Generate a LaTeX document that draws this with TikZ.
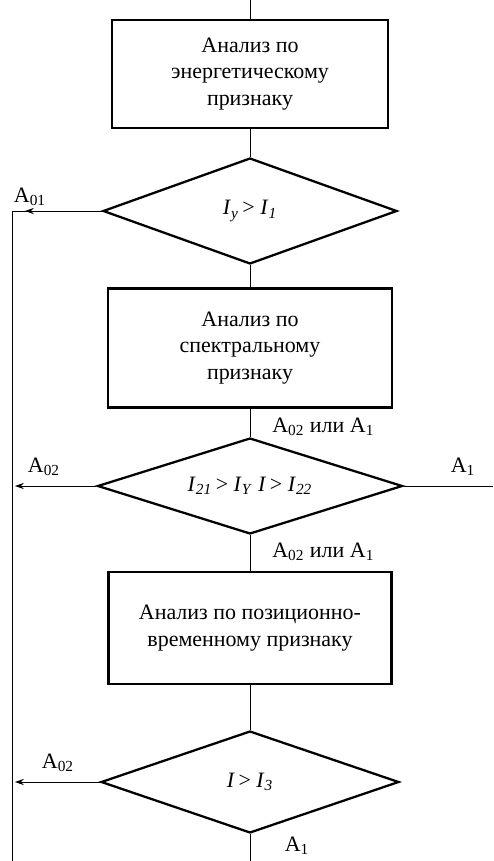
\documentclass[tikz,border=0pt]{standalone}
\usepackage{fontspec}
\setmainfont{Liberation Serif}
\usetikzlibrary{shapes.geometric,arrows.meta}
\newcommand\isb[2]{\textit{#1}\textsubscript{\textit{#2}}}
\begin{document}
\begin{tikzpicture}[x=0.02cm,y=-0.02cm,
  box/.style={draw,line width=1.3pt,inner sep=0pt,align=center,font=\fontsize{12.5}{15}\selectfont},
  dia/.style={draw,diamond,line width=1.3pt,inner sep=0pt,aspect=3,font=\fontsize{12.5}{15}\selectfont},
  conn/.style={line width=0.5pt},
  arr/.style={line width=0.5pt,-{Stealth[length=5pt,width=3.5pt]}},
  lab/.style={inner sep=0pt,font=\fontsize{12.5}{14}\selectfont}]
\useasboundingbox (0,0) rectangle (493,861);
\node[box,minimum width=5.52cm,minimum height=2.16cm] (b1) at (250,74) {Анализ по\\энергетическому\\признаку};
\node[dia,minimum width=5.88cm,minimum height=2.12cm] (d1) at (250,211) {\isb{I}{y}\,> \isb{I}{1}};
\node[box,minimum width=5.68cm,minimum height=2.38cm] (b2) at (250,348) {Анализ по\\спектральному\\признаку};
\node[dia,minimum width=6.1cm,minimum height=1.92cm] (d2) at (250,486) {\isb{I}{21}\,> \isb{I}{Y} \textit{I}\,> \isb{I}{22}};
\node[box,minimum width=5.66cm,minimum height=2.24cm] (b3) at (250,628) {Анализ по позиционно-\\временному признаку};
\node[dia,minimum width=5.96cm,minimum height=2.04cm] (d3) at (250,782) {\textit{I}\,> \isb{I}{3}};
\coordinate (top) at (250,0);
\coordinate (bot) at (250,861);
\coordinate (c01) at (12,211);
\coordinate (c01a) at (38,211);
\coordinate (c01b) at (25,211);
\coordinate (lbot) at (12,861);
\coordinate (e2l) at (15,486);
\coordinate (e2r) at (493,486);
\coordinate (e3l) at (15,782);
\draw[conn] (top) -- (b1.north);
\draw[conn] (b1.south) -- (d1.north);
\draw[conn] (d1.south) -- (b2.north);
\draw[conn] (b2.south) -- (d2.north);
\draw[conn] (d2.south) -- (b3.north);
\draw[conn] (b3.south) -- (d3.north);
\draw[conn] (d3.south) -- (bot);
\draw[conn] (d1.west) -- (c01) -- (lbot);
\draw[arr] (c01a) -- (c01b);
\draw[arr] (d2.west) -- (e2l);
\draw[conn] (d2.east) -- (e2r);
\draw[arr] (d3.west) -- (e3l);
\node[lab] (l01) at (30,197) {A\textsubscript{01}};
\node[lab,anchor=west] (l2a) at (272,427) {A\textsubscript{02} или A\textsubscript{1}};
\node[lab] (l2b) at (44,467) {A\textsubscript{02}};
\node[lab] (l2c) at (463,467) {A\textsubscript{1}};
\node[lab,anchor=west] (l3a) at (272,552) {A\textsubscript{02} или A\textsubscript{1}};
\node[lab] (l3b) at (58,763) {A\textsubscript{02}};
\node[lab] (l3c) at (297,846) {A\textsubscript{1}};
\end{tikzpicture}
\end{document}
